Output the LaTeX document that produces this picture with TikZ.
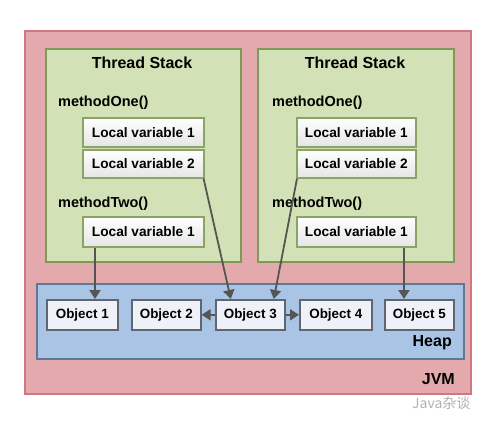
\documentclass[tikz,border=0pt]{standalone}
\usepackage{fontspec}
\setmainfont{Liberation Sans}
\newfontfamily\cjk{Noto Sans CJK SC}
\usetikzlibrary{arrows.meta,calc}
\definecolor{jvmfill}{HTML}{E4A9AD}
\definecolor{jvmdraw}{HTML}{D07880}
\definecolor{tsfill}{HTML}{D3E2B6}
\definecolor{tsdraw}{HTML}{7E9A58}
\definecolor{lvdraw}{HTML}{8AA468}
\definecolor{heapfill}{HTML}{A9C4E4}
\definecolor{heapdraw}{HTML}{5E7898}
\definecolor{objfill}{HTML}{EEF2F8}
\definecolor{objdraw}{HTML}{5F6670}
\definecolor{arr}{HTML}{555555}
\tikzset{
  x=1pt, y=-1pt,
  txt/.style={font=\bfseries, text=black, inner sep=0pt},
  jvmbox/.style={draw=jvmdraw, fill=jvmfill, line width=1.5pt},
  tsbox/.style={draw=tsdraw, fill=tsfill, line width=1.8pt, anchor=north west, inner sep=0pt},
  lvbox/.style={draw=lvdraw, line width=1.6pt, top color=white, bottom color=black!10,
     anchor=north west, minimum width=121pt, minimum height=29pt, inner sep=0pt,
     font=\bfseries\fontsize{13.7}{15}\selectfont},
  heapbox/.style={draw=heapdraw, fill=heapfill, line width=1.6pt, anchor=north west, inner sep=0pt},
  objbox/.style={draw=objdraw, fill=objfill, line width=1.6pt, anchor=north west,
     minimum height=30pt, inner sep=0pt, font=\bfseries\fontsize{13.4}{15}\selectfont},
  ref/.style={draw=arr, line width=1.8pt, -{Triangle[width=11pt,length=9pt]}},
  meth/.style={txt, anchor=west, font=\bfseries\fontsize{14.5}{16}\selectfont},
  title/.style={txt, font=\bfseries\fontsize{16}{18}\selectfont},
}
\begin{document}
\begin{tikzpicture}
\useasboundingbox[fill=white] (0,0) rectangle (500,423);
% JVM
\node[jvmbox, anchor=north west, minimum width=446pt, minimum height=363pt, inner sep=0pt] (jvm) at (24,30) {};
\node[title, anchor=east] (jvml) at (455,379) {JVM};
% Thread stacks
\node[tsbox, minimum width=195pt, minimum height=213pt] (tsa) at (45,48) {};
\node[tsbox, minimum width=196pt, minimum height=213pt] (tsb) at (257,48) {};
\node[title] (tta) at (142,63) {Thread Stack};
\node[title] (ttb) at (355,63) {Thread Stack};
% Left stack
\node[meth] (m1a) at (58,103) {methodOne()};
\node[lvbox] (l1a) at (82,117) {Local variable 1};
\node[lvbox, minimum height=28pt] (l2a) at (82,149) {Local variable 2};
\node[meth] (m2a) at (58,204) {methodTwo()};
\node[lvbox, minimum height=30pt] (l3a) at (82,216) {Local variable 1};
% Right stack
\node[meth] (m1b) at (272,103) {methodOne()};
\node[lvbox, minimum width=119pt] (l1b) at (296,117) {Local variable 1};
\node[lvbox, minimum width=119pt, minimum height=28pt] (l2b) at (296,149) {Local variable 2};
\node[meth] (m2b) at (272,204) {methodTwo()};
\node[lvbox, minimum width=119pt, minimum height=30pt] (l3b) at (296,216) {Local variable 1};
% Heap
\node[heapbox, minimum width=427pt, minimum height=75pt] (heap) at (36,283) {};
\node[title, anchor=east] (heapl) at (452,343) {Heap};
\node[objbox, minimum width=71pt] (o1) at (46,299) {Object 1};
\node[objbox, minimum width=69pt] (o2) at (131,299) {Object 2};
\node[objbox, minimum width=69pt] (o3) at (215,299) {Object 3};
\node[objbox, minimum width=72pt] (o4) at (299,299) {Object 4};
\node[objbox, minimum width=69pt] (o5) at (384,299) {Object 5};
% References
\coordinate (s3a) at ($(l3a.south west)+(13,0)$);
\draw[ref] (s3a) -- (s3a |- o1.north);
\draw[ref] ($(l2a.south east)+(-1,0)$) -- ($(o3.north)+(-19.5,0)$);
\draw[ref] ($(l2b.south west)+(1,0)$) -- ($(o3.north)+(23.5,0)$);
\coordinate (s3b) at ($(l3b.south west)+(108,0)$);
\draw[ref] (s3b) -- (s3b |- o5.north);
\draw[ref] (o3.west) -- (o2.east);
\draw[ref] (o3.east) -- (o4.west);
% watermark
\node[text=black!30, font=\cjk\fontsize{14}{16}\selectfont, anchor=west, inner sep=0pt] (wm) at (412,403) {Java杂谈};
\end{tikzpicture}
\end{document}
